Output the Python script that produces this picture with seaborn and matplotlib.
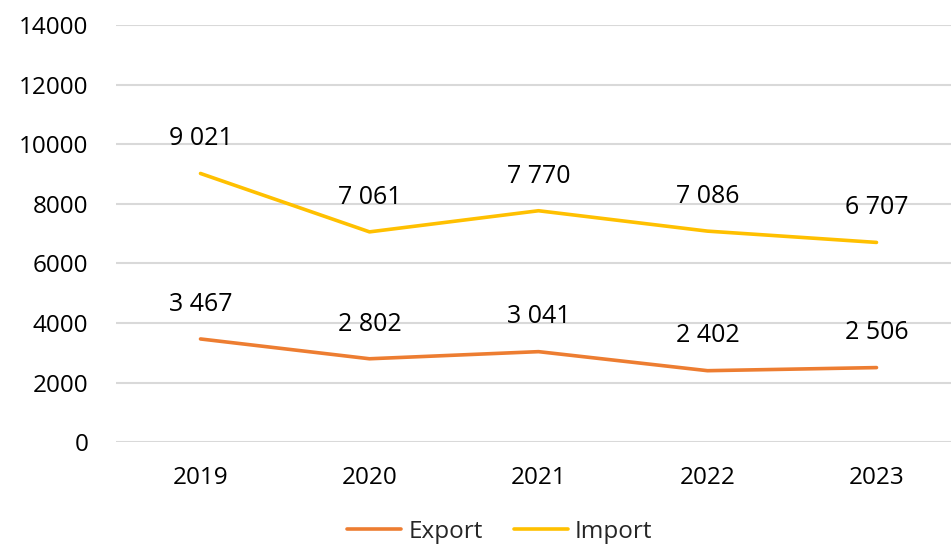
import matplotlib
matplotlib.use("Agg")
import matplotlib.pyplot as plt
import seaborn as sns
import pandas as pd

years = ["2019", "2020", "2021", "2022", "2023"]
export_vals = [3467, 2802, 3041, 2402, 2506]
import_vals = [9021, 7061, 7770, 7086, 6707]

df = pd.DataFrame({
    "year": years * 2,
    "value": export_vals + import_vals,
    "series": ["Export"] * len(years) + ["Import"] * len(years),
})

sns.set_style("white")
plt.rcParams["font.family"] = ["Open Sans", "DejaVu Sans"]

fig = plt.figure(figsize=(9.51, 5.46), dpi=100)
ax = fig.add_axes([116 / 951, 0.19, 845 / 951, 0.764])

palette = {"Export": "#ED7D31", "Import": "#FFC000"}
sns.lineplot(data=df, x="year", y="value", hue="series", palette=palette,
             linewidth=2.6, ax=ax, sort=False)

for i, y in enumerate(years):
    for v in (export_vals[i], import_vals[i]):
        ax.annotate(f"{v:,}".replace(",", " "), (i, v), xytext=(0, 25),
                    textcoords="offset points", ha="center", va="center",
                    fontsize=18, color="#000000")

ax.set_ylim(0, 14000)
ax.set_xlim(-0.5, 4.5)
ax.set_yticks(range(0, 14001, 2000))
ax.yaxis.grid(True, color="#D9D9D9", linewidth=1.5)
ax.set_axisbelow(True)
for s in ax.spines.values():
    s.set_visible(False)
ax.tick_params(axis="both", length=0, labelsize=17.5, colors="#000000")
ax.tick_params(axis="y", pad=20)
ax.tick_params(axis="x", pad=17)
ax.set_xlabel("")
ax.set_ylabel("")

handles, labels = ax.get_legend_handles_labels()
ax.legend(handles, labels, loc="center", bbox_to_anchor=(500 / 951, 1 - 532 / 546),
          bbox_transform=fig.transFigure, ncol=2, frameon=False, fontsize=17.5,
          handlelength=2.2, columnspacing=1.3, handletextpad=0.3)

fig.savefig("out.png", dpi=100)
